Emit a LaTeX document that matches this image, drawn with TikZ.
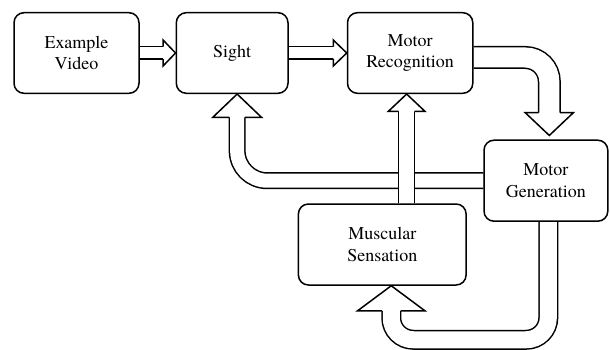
\documentclass[tikz,border=0pt]{standalone}
\usepackage{fontspec}
\newfontfamily\lserif{texgyretermes-regular.otf}
\usetikzlibrary{calc,backgrounds}
\tikzset{
  box/.style={draw, line width=1.5pt, rounded corners=10pt, fill=white,
    align=center, inner sep=0pt, minimum height=81,
    font=\lserif\fontsize{18}{21.5}\selectfont},
  shaft/.style={draw=black, line width=1.5pt, double=white},
  headst/.style={draw=black, fill=white, line width=1.5pt, line join=miter}
}
% #1 tip, #2 dx, #3 dy, #4 head length, #5 head half width, #6 shaft half width
\newcommand\fathead[6]{%
  \filldraw[headst]
    ($(#1)+({-(#4)*(#2)-(#6)*(#3)},{-(#4)*(#3)+(#6)*(#2)})$) --
    ($(#1)+({-(#4)*(#2)-(#5)*(#3)},{-(#4)*(#3)+(#5)*(#2)})$) --
    (#1) --
    ($(#1)+({-(#4)*(#2)+(#5)*(#3)},{-(#4)*(#3)-(#5)*(#2)})$) --
    ($(#1)+({-(#4)*(#2)+(#6)*(#3)},{-(#4)*(#3)-(#6)*(#2)})$);
}
\begin{document}
\begin{tikzpicture}[x=1pt,y=-1pt]
\useasboundingbox (0,0) rectangle (610,350);

\node[box, minimum width=125, minimum height=80.6] (ev) at (76.5,53) {Example\\Video};
\node[box, minimum width=111.7, minimum height=80.6] (sight) at (232.15,53) {Sight};
\node[box, minimum width=125.3, minimum height=80.6] (mr) at (410.15,53) {Motor\\Recognition};
\node[box, minimum width=123.8] (mg) at (545.9,180.7) {Motor\\Generation};
\node[box, minimum width=167.7] (ms) at (382.25,244.5) {Muscular\\Sensation};

\coordinate (t3) at ($(mg.north)+(3.4,-4)$);
\coordinate (t4) at ($(sight.south)+(5,0)$);
\coordinate (t5) at ($(mr.south)+(-3.5,0)$);
\coordinate (s6) at ($(mg.south)+(2.4,0)$);
\coordinate (t6) at ($(ms.south)+(9,0)$);

\begin{scope}[on background layer]
  % Example Video -> Sight
  \draw[shaft, double distance=11] (ev.east) -- ($(sight.west)+(-12,0)$);
  \fathead{sight.west}{1}{0}{12.5}{13}{6.25}
  % Sight -> Motor Recognition
  \draw[shaft, double distance=11] (sight.east) -- ($(mr.west)+(-13,0)$);
  \fathead{mr.west}{1}{0}{13.5}{13}{6.25}
  % Motor Recognition -> Motor Generation
  \draw[shaft, double distance=20, rounded corners=24]
    ($(mr.east)+(0,4.5)$) -| ($(t3)+(0,-22.2)$);
  \fathead{t3}{0}{1}{22.7}{24}{10.75}
  % Motor Generation -> Sight
  \draw[shaft, double distance=14, rounded corners=30]
    (mg.west) -| ($(t4)+(0,22.9)$);
  \fathead{t4}{0}{-1}{23.4}{24.5}{7.75}
  % Muscular Sensation -> Motor Recognition
  \draw[shaft, double distance=14.5] (t5 |- ms.north) -- ($(t5)+(0,16.9)$);
  \fathead{t5}{0}{-1}{17.4}{18.4}{8}
  % Motor Generation -> Muscular Sensation
  \draw[shaft, double distance=17, rounded corners=22]
    (s6) |- ($(t6)+(0,54)$) -- ($(t6)+(0,24.5)$);
  \fathead{t6}{0}{-1}{25}{33.6}{9.25}
\end{scope}
\end{tikzpicture}
\end{document}
